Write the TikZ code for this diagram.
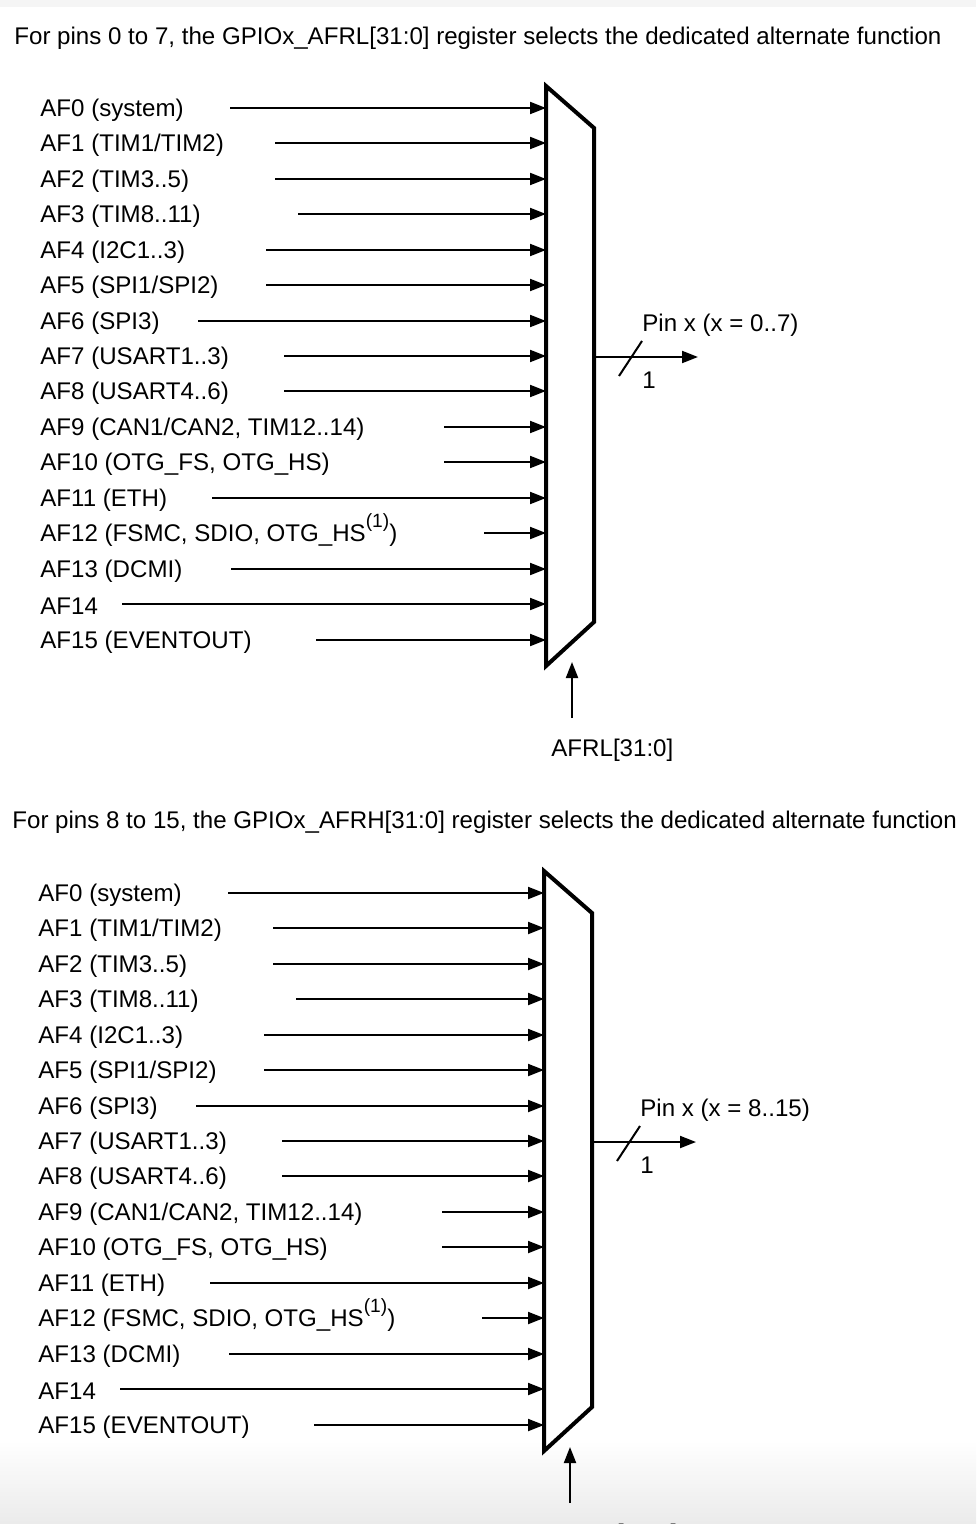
\documentclass[tikz,border=0pt]{standalone}
\usepackage{fontspec}
\setmainfont{Liberation Sans}
\usetikzlibrary{arrows.meta}
\newcommand{\fnmark}[1]{\smash{\raisebox{0.55em}{\fontsize{9.6}{10}\selectfont(#1)}}}
\tikzset{
  txt/.style={inner sep=0pt,font=\fontsize{12.05}{14}\selectfont},
  af/.style={txt,anchor=west,yshift=-0.9pt},
  feed/.style={line width=1pt,-{Triangle[length=8pt,width=6pt]}},
  mux/.style={line width=2pt,line join=miter}
}
\begin{document}
\begin{tikzpicture}[x=0.5pt,y=-0.5pt]
  \fill[white] (0,0) rectangle (976,1524);
  \shade[top color=white,bottom color=black!8] (0,1440) rectangle (976,1524);
  \fill[black!4] (0,0) rectangle (976,7);
  \useasboundingbox (0,0) rectangle (976,1524);
  \node[af] (titleL) at (14,36) {For pins 0 to 7, the GPIOx\_AFRL[31:0] register selects the dedicated alternate function};
  \draw
    (40,108) node[af] (a0){AF0 (system)}
    (40,143) node[af] (a1){AF1 (TIM1/TIM2)}
    (40,179) node[af] (a2){AF2 (TIM3..5)}
    (40,214) node[af] (a3){AF3 (TIM8..11)}
    (40,250) node[af] (a4){AF4 (I2C1..3)}
    (40,285) node[af] (a5){AF5 (SPI1/SPI2)}
    (40,321) node[af] (a6){AF6 (SPI3)}
    (40,356) node[af] (a7){AF7 (USART1..3)}
    (40,391) node[af] (a8){AF8 (USART4..6)}
    (40,427) node[af] (a9){AF9 (CAN1/CAN2, TIM12..14)}
    (40,462) node[af] (a10){AF10 (OTG\_FS, OTG\_HS)}
    (40,498) node[af] (a11){AF11 (ETH)}
    (40,533) node[af] (a12){AF12 (FSMC, SDIO, OTG\_HS\fnmark{1})}
    (40,569) node[af] (a13){AF13 (DCMI)}
    (40,604) node[af] (a14){AF14}
    (40,640) node[af] (a15){AF15 (EVENTOUT)};
  \draw
    (230,108) coordinate (s0)
    (275,143) coordinate (s1)
    (275,179) coordinate (s2)
    (298,214) coordinate (s3)
    (266,250) coordinate (s4)
    (266,285) coordinate (s5)
    (198,321) coordinate (s6)
    (284,356) coordinate (s7)
    (284,391) coordinate (s8)
    (444,427) coordinate (s9)
    (444,462) coordinate (s10)
    (212,498) coordinate (s11)
    (484,533) coordinate (s12)
    (231,569) coordinate (s13)
    (122,604) coordinate (s14)
    (316,640) coordinate (s15);
  \coordinate (muxL) at (546,0);
  \draw[mux] (546,86) -- (594,128) -- (594,622) -- (546,666) -- cycle;
  \begin{scope}[feed]
    \draw (s0) -- (s0 -| muxL);
    \draw (s1) -- (s1 -| muxL);
    \draw (s2) -- (s2 -| muxL);
    \draw (s3) -- (s3 -| muxL);
    \draw (s4) -- (s4 -| muxL);
    \draw (s5) -- (s5 -| muxL);
    \draw (s6) -- (s6 -| muxL);
    \draw (s7) -- (s7 -| muxL);
    \draw (s8) -- (s8 -| muxL);
    \draw (s9) -- (s9 -| muxL);
    \draw (s10) -- (s10 -| muxL);
    \draw (s11) -- (s11 -| muxL);
    \draw (s12) -- (s12 -| muxL);
    \draw (s13) -- (s13 -| muxL);
    \draw (s14) -- (s14 -| muxL);
    \draw (s15) -- (s15 -| muxL);
  \end{scope}
  \coordinate (outL) at (594,357);
  \coordinate (pinL) at (698,357);
  \draw[feed] (outL) -- (pinL);
  \draw[line width=1pt] (619,376) -- (642,341);
  \node[af] (pinxL) at (642,323) {Pin x (x = 0..7)};
  \node[af] (oneL) at (642,378) {1};
  \coordinate (selL) at (572,718);
  \coordinate (tipL) at (572,662);
  \draw[feed] (selL) -- (tipL);
  \node[af] (afrl) at (551,748) {AFRL[31:0]};

  \node[af] (titleH) at (12,820) {For pins 8 to 15, the GPIOx\_AFRH[31:0] register selects the dedicated alternate function};
  \draw
    (38,893) node[af] (b0){AF0 (system)}
    (38,928) node[af] (b1){AF1 (TIM1/TIM2)}
    (38,964) node[af] (b2){AF2 (TIM3..5)}
    (38,999) node[af] (b3){AF3 (TIM8..11)}
    (38,1035) node[af] (b4){AF4 (I2C1..3)}
    (38,1070) node[af] (b5){AF5 (SPI1/SPI2)}
    (38,1106) node[af] (b6){AF6 (SPI3)}
    (38,1141) node[af] (b7){AF7 (USART1..3)}
    (38,1176) node[af] (b8){AF8 (USART4..6)}
    (38,1212) node[af] (b9){AF9 (CAN1/CAN2, TIM12..14)}
    (38,1247) node[af] (b10){AF10 (OTG\_FS, OTG\_HS)}
    (38,1283) node[af] (b11){AF11 (ETH)}
    (38,1318) node[af] (b12){AF12 (FSMC, SDIO, OTG\_HS\fnmark{1})}
    (38,1354) node[af] (b13){AF13 (DCMI)}
    (38,1389) node[af] (b14){AF14}
    (38,1425) node[af] (b15){AF15 (EVENTOUT)};
  \draw
    (228,893) coordinate (t0)
    (273,928) coordinate (t1)
    (273,964) coordinate (t2)
    (296,999) coordinate (t3)
    (264,1035) coordinate (t4)
    (264,1070) coordinate (t5)
    (196,1106) coordinate (t6)
    (282,1141) coordinate (t7)
    (282,1176) coordinate (t8)
    (442,1212) coordinate (t9)
    (442,1247) coordinate (t10)
    (210,1283) coordinate (t11)
    (482,1318) coordinate (t12)
    (229,1354) coordinate (t13)
    (120,1389) coordinate (t14)
    (314,1425) coordinate (t15);
  \coordinate (muxH) at (544,0);
  \draw[mux] (544,871) -- (592,913) -- (592,1407) -- (544,1451) -- cycle;
  \begin{scope}[feed]
    \draw (t0) -- (t0 -| muxH);
    \draw (t1) -- (t1 -| muxH);
    \draw (t2) -- (t2 -| muxH);
    \draw (t3) -- (t3 -| muxH);
    \draw (t4) -- (t4 -| muxH);
    \draw (t5) -- (t5 -| muxH);
    \draw (t6) -- (t6 -| muxH);
    \draw (t7) -- (t7 -| muxH);
    \draw (t8) -- (t8 -| muxH);
    \draw (t9) -- (t9 -| muxH);
    \draw (t10) -- (t10 -| muxH);
    \draw (t11) -- (t11 -| muxH);
    \draw (t12) -- (t12 -| muxH);
    \draw (t13) -- (t13 -| muxH);
    \draw (t14) -- (t14 -| muxH);
    \draw (t15) -- (t15 -| muxH);
  \end{scope}
  \coordinate (outH) at (592,1142);
  \coordinate (pinH) at (696,1142);
  \draw[feed] (outH) -- (pinH);
  \draw[line width=1pt] (617,1161) -- (640,1126);
  \node[af] (pinxH) at (640,1108) {Pin x (x = 8..15)};
  \node[af] (oneH) at (640,1163) {1};
  \coordinate (selH) at (570,1503);
  \coordinate (tipH) at (570,1447);
  \draw[feed] (selH) -- (tipH);
  \node[af] (afrh) at (551,1533) {AFRH[31:0]};
\end{tikzpicture}
\end{document}
